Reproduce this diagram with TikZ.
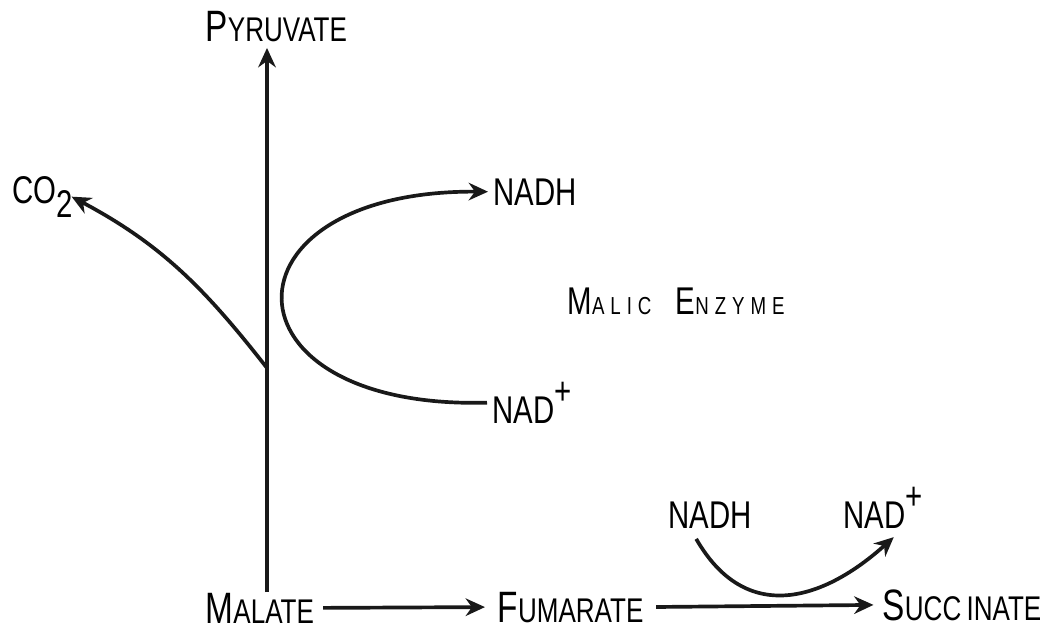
\documentclass[tikz,border=0pt]{standalone}
\usepackage{fontspec}
\setmainfont{Liberation Sans}[FakeStretch=0.76]
\newfontfamily\spacedfont{Liberation Sans}[FakeStretch=0.76, LetterSpace=24]
\usetikzlibrary{arrows.meta, calc}

% big first letter, smaller rest (typed small caps)
\newcommand{\capword}[2]{{\fontsize{25}{25}\selectfont #1}{\fontsize{19.5}{20}\selectfont #2}}
\newcommand{\enzword}[2]{{\fontsize{22}{22}\selectfont #1}{\fontsize{14}{14}\selectfont #2}}

\begin{document}
\begin{tikzpicture}[
    x=0.02cm, y=-0.02cm,
    font=\fontsize{22}{22}\selectfont,
    chem/.style={
        inner sep=3pt,
        anchor=base west,
        text=black
    },
    arr/.style={
        -{Stealth[length=11pt, width=10pt]},
        line width=2.1pt,
        draw=black!90
    }
]
\useasboundingbox (0,0) rectangle (1064,642);

% ==========================================
% METABOLITES
% ==========================================

\node[chem] (pyr) at (200,42) {\capword{P}{YRUVATE}};
\node[chem] (co2) at (7,203) {CO\raisebox{-0.7ex}{2}};
\node[chem] (nadh1) at (488,205) {NADH};
\node[chem] (nad1) at (487,423) {NAD\raisebox{0.9ex}{+}};
\node[chem] (malic) at (562,314) {\spacedfont\enzword{M}{ALIC}\hspace{4pt} \enzword{E}{NZYME}};

\node[chem] (malate) at (200,623) {\capword{M}{ALATE}};
\node[chem] (fum) at (492,622) {\capword{F}{UMARATE}};
\node[chem] (succ) at (877,620) {\capword{S}{UCC}\hspace{3pt}\capword{}{INATE}};

\node[chem] (nadh2) at (663,528) {NADH};
\node[chem] (nad2) at (838,528) {NAD\raisebox{0.9ex}{+}};

% ==========================================
% MALIC ENZYME BRANCH
% ==========================================

\coordinate (stem) at (267,592);
\coordinate (branch) at (267,368);

\draw[arr] (stem) -- (stem |- pyr.south);

\draw[arr] (branch) to[out=128, in=-28] ([xshift=-4pt]co2.east);

\draw[arr] (nad1.west) .. controls (215,410) and (215,190) .. (nadh1.west);

% ==========================================
% MAIN CHAIN
% ==========================================

\draw[arr, shorten <=2pt, shorten >=4pt] (malate.east) -- (fum.west);
\draw[arr, shorten <=4pt, shorten >=2pt] (fum.east) -- (succ.west);

% coupled NADH -> NAD+
\draw[arr] ([xshift=-8pt, yshift=-3pt]nadh2.south)
    .. controls +(50,87) and +(-70,63) .. ([xshift=6pt, yshift=-2pt]nad2.south);

\end{tikzpicture}
\end{document}
